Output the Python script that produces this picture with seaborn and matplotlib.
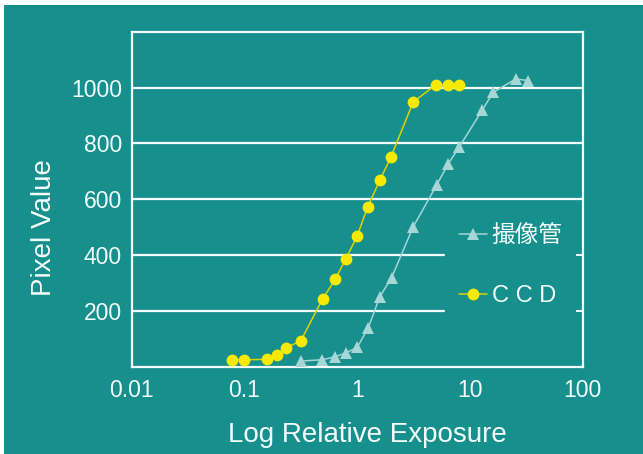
import matplotlib
matplotlib.use("Agg")
import matplotlib.pyplot as plt
from matplotlib.patches import Rectangle
import pandas as pd
import seaborn as sns

# Response curves: relative exposure vs pixel value
tube_exposure = [0.316, 0.49, 0.634, 0.789, 1.0, 1.25, 1.59, 2.02, 3.14,
                 5.06, 6.42, 8.04, 12.9, 16.1, 25.6, 32.4]
tube_pixel = [20, 25, 35, 49, 69, 138, 251, 319, 501,
              650, 727, 787, 920, 983, 1031, 1025]

ccd_exposure = [0.078, 0.099, 0.157, 0.193, 0.233, 0.316, 0.493, 0.638, 0.79,
                1.0, 1.24, 1.59, 1.99, 3.14, 4.99, 6.38, 7.98]
ccd_pixel = [24, 25, 26, 43, 67, 93, 242, 313, 385,
             468, 573, 668, 751, 948, 1010, 1010, 1010]

series_labels = ["撮像管", "C C D"]
x_ticks = [0.01, 0.1, 1, 10, 100]
x_tick_labels = ["0.01", "0.1", "1", "10", "100"]
y_ticks = [200, 400, 600, 800, 1000]

BG = "#168f8d"
WHITE = "#f4fbfb"
TUBE = "#a6d6d5"
CCD_LINE = "#dcd400"
CCD_MARK = "#f7ea00"

sns.set_theme(style="white")
plt.rcParams["font.family"] = ["Liberation Sans", "Noto Sans CJK JP"]

fig = plt.figure(figsize=(6.43, 4.54), dpi=100)
fig.patch.set_facecolor("white")
fig.patches.append(Rectangle((4 / 643, 0), 1, (454 - 5) / 454,
                             transform=fig.transFigure, facecolor=BG,
                             edgecolor="none", zorder=-10))

ax = fig.add_axes([0.2048, 0.1923, 0.9062 - 0.2048, 0.9302 - 0.1923])
ax.set_facecolor(BG)

tube_df = pd.DataFrame({"exposure": tube_exposure, "pixel": tube_pixel})
ccd_df = pd.DataFrame({"exposure": ccd_exposure, "pixel": ccd_pixel})

sns.lineplot(data=tube_df, x="exposure", y="pixel", ax=ax, color=TUBE,
             linewidth=1.1, marker="^", markersize=8.5, markeredgewidth=0,
             markerfacecolor=TUBE, label=series_labels[0], zorder=4,
             clip_on=False)
sns.lineplot(data=ccd_df, x="exposure", y="pixel", ax=ax, color=CCD_LINE,
             linewidth=1.1, marker="o", markersize=8.5, markeredgewidth=0,
             markerfacecolor=CCD_MARK, label=series_labels[1], zorder=5,
             clip_on=False)

ax.set_xscale("log")
ax.set_xlim(0.01, 100)
ax.set_ylim(0, 1200)

# horizontal guide lines; the lower two leave room for the legend
for yv in y_ticks:
    xmax = 0.692 if yv <= 400 else 1.0
    ax.axhline(yv, xmin=0, xmax=xmax, color=WHITE, linewidth=1.6, zorder=1)

ax.set_xticks(x_ticks)
ax.set_xticklabels(x_tick_labels)
ax.minorticks_off()
ax.set_yticks(y_ticks)
ax.set_yticklabels([str(v) for v in y_ticks])

ax.tick_params(axis="x", which="major", direction="in", length=5, width=1.4,
               color=WHITE, labelcolor=WHITE, labelsize=16.5, pad=9)
ax.tick_params(axis="y", which="major", direction="in", length=0,
               labelcolor=WHITE, labelsize=16.5, pad=7)
ax.tick_params(axis="y", which="major", right=True, length=5, width=1.4,
               color=WHITE)

for side in ["left", "right", "top", "bottom"]:
    ax.spines[side].set_visible(True)
    ax.spines[side].set_color(WHITE)
    ax.spines[side].set_linewidth(1.6)

ax.set_xlabel("Log Relative Exposure", color=WHITE, fontsize=20)
ax.set_ylabel("Pixel Value", color=WHITE, fontsize=20)
ax.xaxis.set_label_coords(0.522, -0.165)
ax.yaxis.set_label_coords(-0.165, 0.415)

leg = ax.legend(loc="center left", bbox_to_anchor=(0.725, 0.30), frameon=False,
                fontsize=17, handlelength=1.2, handletextpad=0.2,
                labelspacing=1.6, borderpad=0, borderaxespad=0)
for txt in leg.get_texts():
    txt.set_color(WHITE)

fig.savefig("out.png", dpi=100, facecolor=fig.get_facecolor())
